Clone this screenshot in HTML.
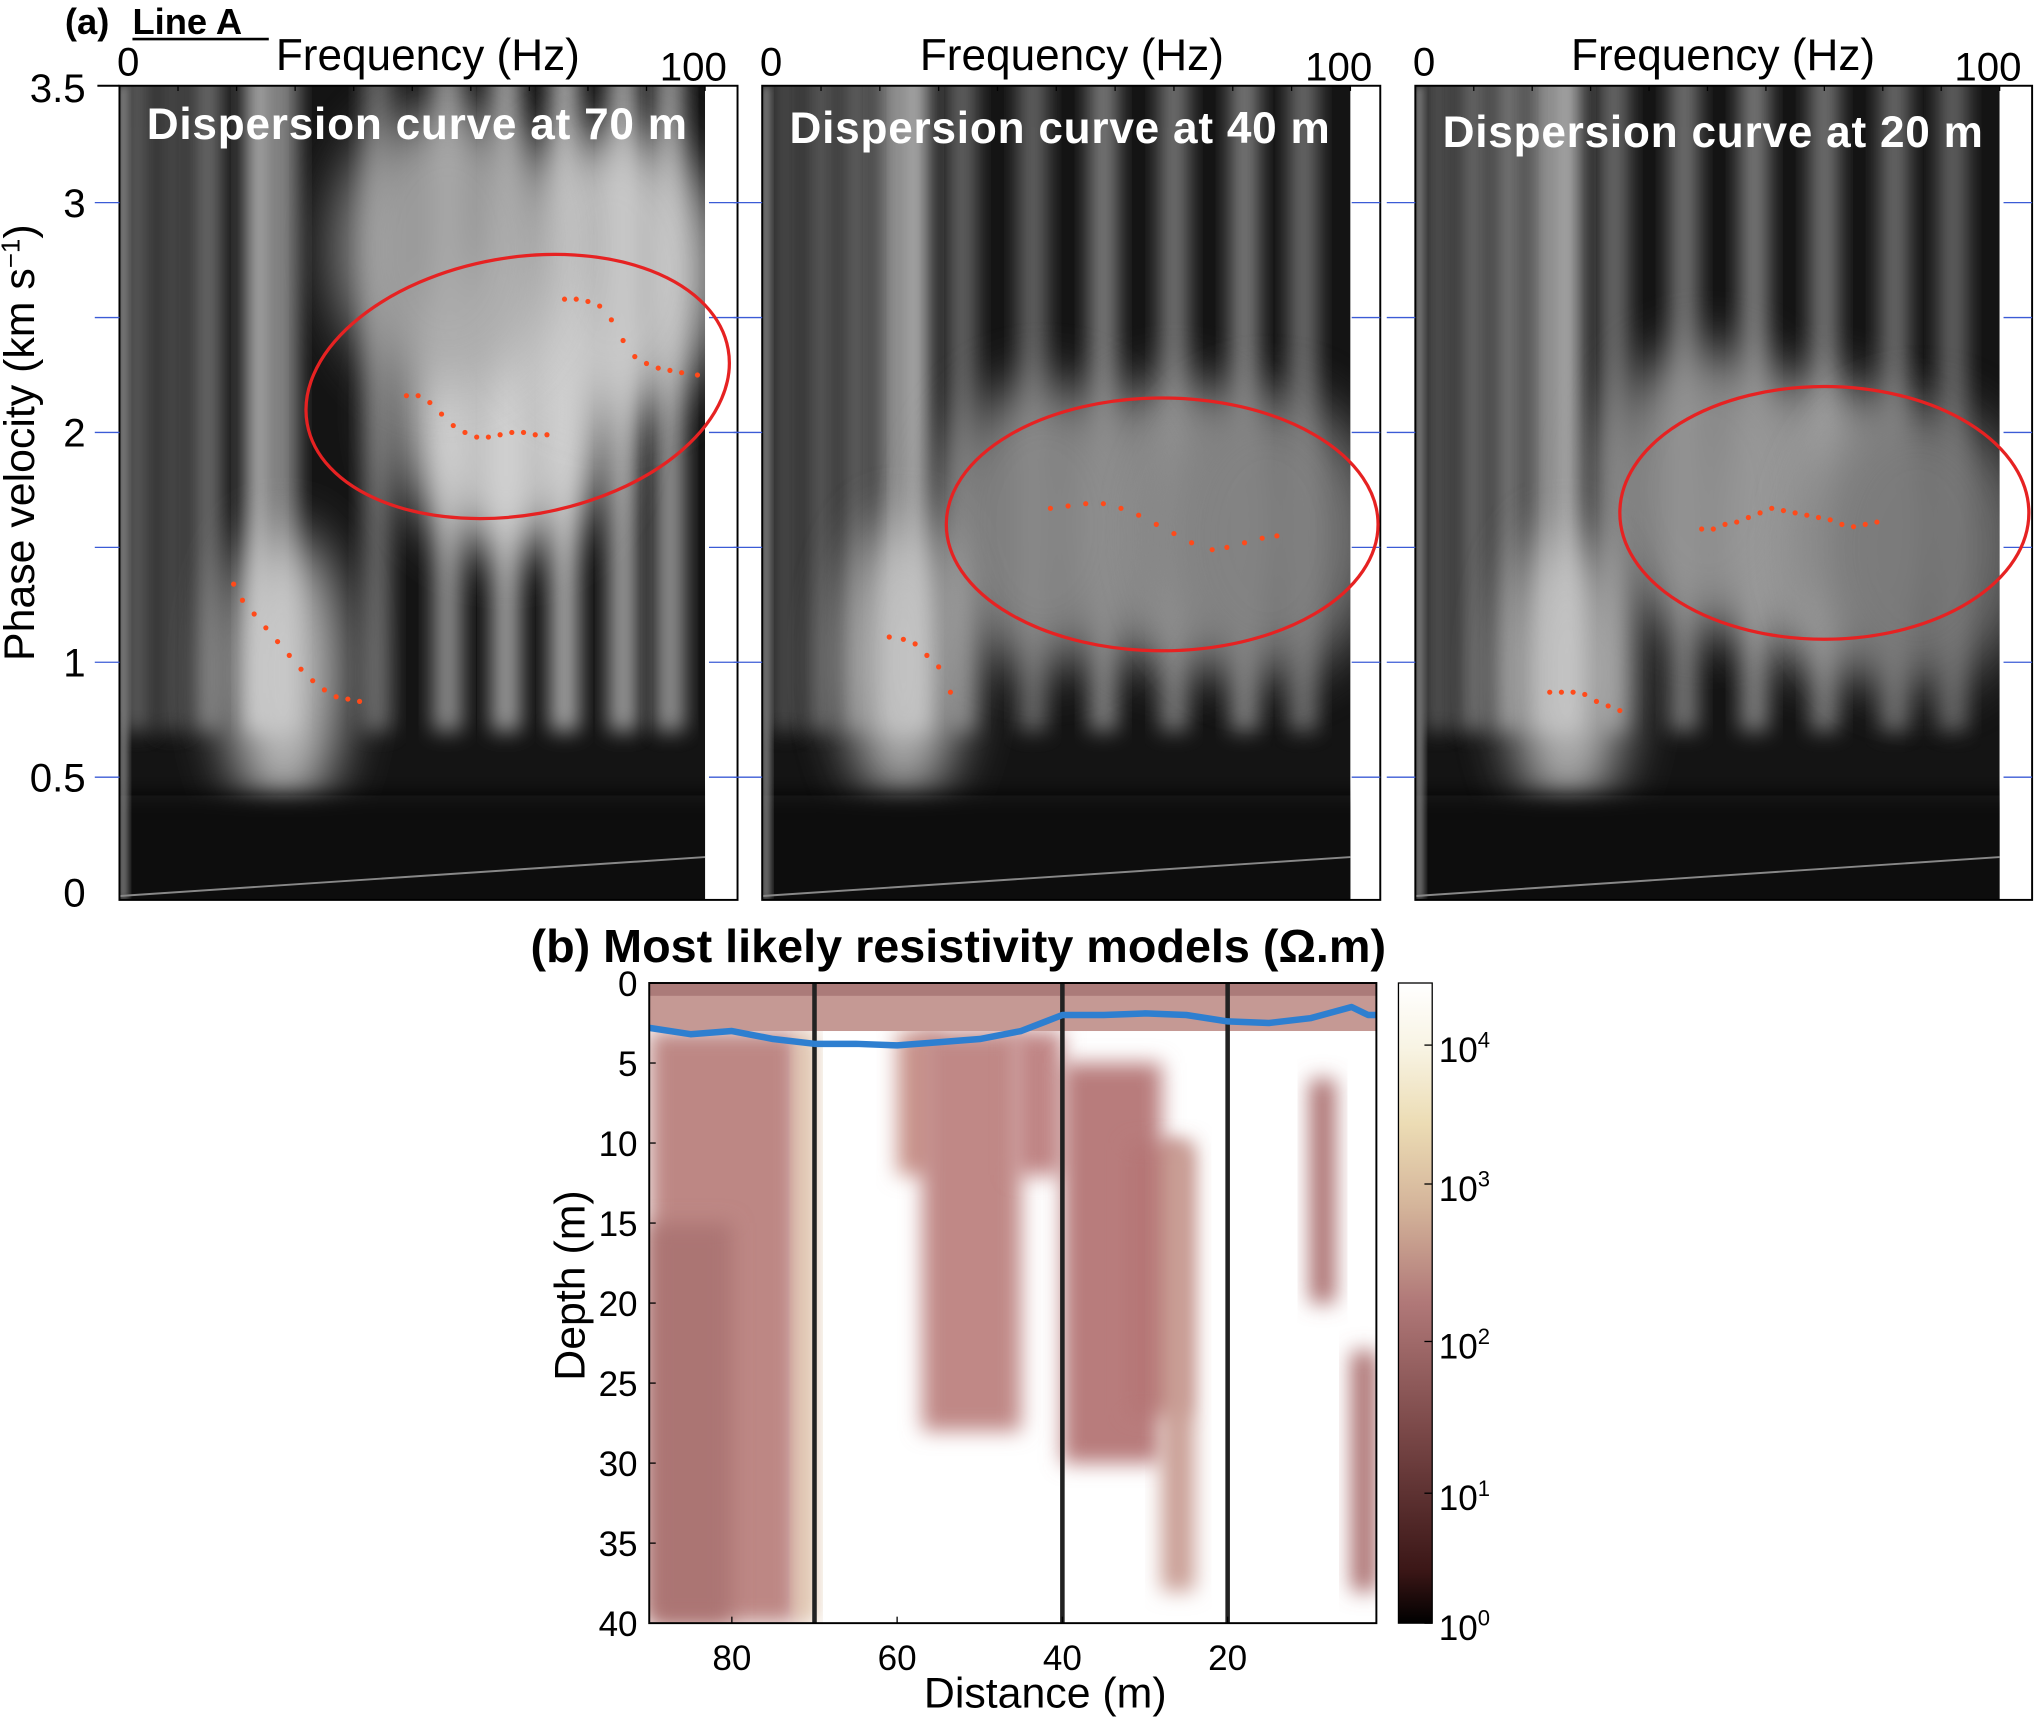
<!DOCTYPE html>
<html><head><meta charset="utf-8"><style>
html,body{margin:0;padding:0;background:#fff;}
svg{display:block;font-family:"Liberation Sans",Arial,sans-serif;}
</style></head><body>
<svg id="fig" xmlns="http://www.w3.org/2000/svg" width="2036" height="1718" viewBox="0 0 1568 1323">
<defs>
<filter id="blur6" x="-50%" y="-50%" width="200%" height="200%"><feGaussianBlur stdDeviation="8"/></filter>
<filter id="blur14" x="-50%" y="-50%" width="200%" height="200%"><feGaussianBlur stdDeviation="22"/></filter>
<filter id="blur3" x="-50%" y="-50%" width="200%" height="200%"><feGaussianBlur stdDeviation="3"/></filter>
<linearGradient id="cbar" x1="0" y1="1" x2="0" y2="0">
<stop offset="0" stop-color="#000"/><stop offset="0.08" stop-color="#3a1616"/><stop offset="0.3" stop-color="#7a4848"/>
<stop offset="0.5" stop-color="#b07878"/><stop offset="0.65" stop-color="#d4b49a"/><stop offset="0.78" stop-color="#ecdcb4"/>
<stop offset="0.9" stop-color="#f8f4e4"/><stop offset="1" stop-color="#fff"/></linearGradient>
</defs>
<g id="root"></g>
</svg>
<script>
const NS="http://www.w3.org/2000/svg";
const rootG=document.getElementById('root');
// ---- data ----
const velTicks=[0,0.5,1,2,3,3.5];
const velMinorTicks=[0.5,1,1.5,2,2.5,3];
const panelTitles=["Dispersion curve at 70 m","Dispersion curve at 40 m","Dispersion curve at 20 m"];
const picksFreq1=[19.5,21,23,25,27,29,31,33,35,37,39,41, 49,51,53,55,57,59,61,63,65,67,69,71,73, 76,78,80,82,84,86,88,90,92,94,96,98.7];
const picksVel1=[1.34,1.27,1.21,1.15,1.09,1.03,0.97,0.92,0.88,0.85,0.84,0.83, 2.16,2.16,2.13,2.08,2.03,2.0,1.98,1.98,1.99,2.0,2.0,1.99,1.99, 2.58,2.58,2.57,2.55,2.49,2.4,2.33,2.3,2.28,2.27,2.26,2.25];
const picksFreq2=[21.6,24,26,28,30,32, 49,52,55,58,61,64,67,70,73,76.5,79,82,85,87.5];
const picksVel2=[1.11,1.1,1.08,1.03,0.98,0.87, 1.67,1.68,1.69,1.69,1.67,1.64,1.6,1.56,1.52,1.49,1.5,1.52,1.54,1.55];
const picksFreq3=[23,25,27,29,31,33,35, 49,51,53,55,57,59,61,63,65,67,69,71,73,75,77,79];
const picksVel3=[0.87,0.87,0.87,0.86,0.83,0.81,0.79, 1.58,1.58,1.6,1.61,1.63,1.65,1.67,1.66,1.65,1.64,1.63,1.62,1.6,1.59,1.6,1.61];
const ellCx=[68,68,70], ellCy=[2.2,1.6,1.65], ellRx=[36.5,36.7,35], ellRy=[0.56,0.55,0.55];
const stripeF=[[3,9,15,24,28,44,56,66,76,86,94],[4,10,16,22,26,34,46,58,70,82,92],[4,10,16,22,26,34,46,58,70,82,92]];
const stripeB=[[110,90,130,210,160,120,170,190,200,190,180],[90,110,120,170,210,120,120,150,140,150,130],[100,130,150,170,210,130,140,150,140,130,120]];
const blobF=[[66,84,28,56],[70,48,24,86],[70,50,26,86]];
const blobV=[[2.1,2.7,0.95,2.8],[1.6,1.6,1.0,1.55],[1.6,1.75,0.95,1.5]];
const blobB=[[215,205,210,170],[150,140,200,130],[170,150,200,120]];
const distTicks=[80,60,40,20];
const depthTicks=[0,5,10,15,20,25,30,35,40];
const cbExp=[4,3,2,1,0];
const cbFrac=[0.903,0.686,0.44,0.203,0];
const resD1=[90,72,60,57,46,40,32,28,10,5,90];
const resD2=[72,70,55,45,40,28,25,24,7,2,80];
const resZ1=[3,3,3,3,3,5,10,10,6,23,15];
const resZ2=[40,40,12,28,12,30,27,38,20,38,40];
const resC=["#bd8784","#d9b898","#c9948c","#c08886","#c08585","#b87c7b","#b57676","#c99e94","#a86a6a","#a86a6a","#ab7473"];
const blueDist=[90,85,80,75,70,65,60,55,50,45,42,40,35,30,25,20,15,10,5,3,2];
const blueDepth=[2.8,3.2,3.0,3.5,3.8,3.8,3.9,3.7,3.5,3.0,2.4,2.0,2.0,1.9,2.0,2.4,2.5,2.2,1.5,2.0,2.0];
const vLines=[70,40,20];
// ---- helpers ----
function mk(tag,attrs,parent){const e=document.createElementNS(NS,tag);for(const k in attrs)e.setAttribute(k,attrs[k]);(parent||rootG).appendChild(e);return e;}
function txt(x,y,s,size,extra,parent){const t=mk('text',Object.assign({x:x,y:y,'font-size':size},extra||{}),parent);t.textContent=s;return t;}
function sup(x,y,base,exp,size,extra,parent){const t=mk('text',Object.assign({x:x,y:y,'font-size':size},extra||{}),parent);
  t.appendChild(document.createTextNode(base));const s=mk('tspan',{dy:-11,'font-size':Math.round(size*0.62)},t);s.textContent=exp;return t;}
const panels=[{x0:92,x1:543,r:568},{x0:587,x1:1040,r:1063},{x0:1090,x1:1540,r:1565}];
const yTop=66,yBot=693;
const vy=v=>687-v*177;
// ---- panel a ----
const lbl=txt(50,26,"(a)",28,{'font-weight':'bold'});

const la=txt(102,26,"Line A",28,{'font-weight':'bold'});

mk('line',{x1:102,y1:30,x2:207,y2:30,stroke:'#000','stroke-width':2});
const picksF=[picksFreq1,picksFreq2,picksFreq3], picksV=[picksVel1,picksVel2,picksVel3];
panels.forEach((p,i)=>{
  const fx=f=>p.x0+f*(p.x1-p.x0)/100;
  const g=mk('g',{});
  
  
  const cp=mk('clipPath',{id:'cp'+i},g);mk('rect',{x:p.x0,y:yTop,width:p.x1-p.x0,height:yBot-yTop},cp);
  const ig=mk('g',{'clip-path':'url(#cp'+i+')'},g);
  mk('rect',{x:p.x0,y:yTop,width:p.x1-p.x0,height:yBot-yTop,fill:'#141414'},ig);
  stripeF[i].forEach((f,k)=>{const b=stripeB[i][k];
    const s=mk('rect',{x:fx(f)-11,y:yTop-20,width:22,height:vy(0.7)-yTop+20,fill:`rgb(${b},${b},${b})`,filter:'url(#blur6)',opacity:0.8},ig);
    });
  blobF[i].forEach((f,k)=>{const b=blobB[i][k];
    const e=mk('ellipse',{cx:fx(f),cy:vy(blobV[i][k]),rx:k==2?45:85,ry:k==2?110:110,fill:`rgb(${b},${b},${b})`,filter:'url(#blur14)',opacity:0.9},ig);
    });
  mk('rect',{x:p.x0-20,y:vy(0.42),width:p.x1-p.x0+40,height:yBot-vy(0.42)+20,fill:'#0c0c0c',filter:'url(#blur6)'},ig);
  mk('rect',{x:p.x0,y:yTop,width:6,height:yBot-yTop,fill:'#888',filter:'url(#blur3)'},ig);
  mk('line',{x1:p.x0,y1:690,x2:p.x1,y2:660,stroke:'#888','stroke-width':1.5},ig);
  mk('rect',{x:p.x0,y:yTop,width:p.r-p.x0,height:yBot-yTop,fill:'none',stroke:'#000','stroke-width':1.5},g);
  velMinorTicks.forEach(v=>{
    const l=mk('line',{x1:p.r-22,y1:vy(v),x2:p.r,y2:vy(v),stroke:'#3b5bd6','stroke-width':1},g);
    
    mk('line',{x1:p.x0-(i==0?19:22),y1:vy(v),x2:p.x0,y2:vy(v),stroke:'#3b5bd6','stroke-width':1},g);
  });
  for(let f=0;f<=100;f+=10){mk('line',{x1:fx(f),y1:yTop,x2:fx(f),y2:yTop+4,stroke:'#000'},g);}
  const t0=txt(fx(1.5),58,"0",31,{'text-anchor':'middle'},g);
  const t1=txt(fx(98),62,"100",31,{'text-anchor':'middle'},g);
  const ft=txt((p.x0+p.x1)/2+12,54,"Frequency (Hz)",34,{'text-anchor':'middle'},g);
  
  const tt=txt(p.x0+21,110+(i==0?-3:0)+(i==2?3:0),panelTitles[i],34,{'font-weight':'bold',fill:'#fff','letter-spacing':'0.6'},g);
  
  const ea={cx:fx(ellCx[i]),cy:vy(ellCy[i]),rx:ellRx[i]*(p.x1-p.x0)/100,ry:ellRy[i]*177,fill:'none',stroke:'#e62222','stroke-width':2.5};
  if(i==0) ea.transform=`rotate(-10 ${fx(ellCx[i])} ${vy(ellCy[i])})`;
  const el=mk('ellipse',ea,g);
  
  picksF[i].forEach((f,k)=>{
    const c=mk('circle',{cx:fx(f),cy:vy(picksV[i][k]),r:2,fill:'#ff4a1a'},g);
    
  });
});
mk('line',{x1:75,y1:yTop,x2:92,y2:yTop,stroke:'#000','stroke-width':1.5});
velTicks.forEach(v=>{const t=txt(66,vy(v)+11,String(v),31,{'text-anchor':'end'});
  });
const ytg=mk('g',{transform:'translate(26,326) rotate(-90)'});
const yt=sup(-183,0,"Phase velocity (km s","−1",33,{},ytg);
const yclose=mk('tspan',{dy:11},yt);yclose.textContent=")";

// ---- panel b ----
const bx0=500,bx1=1060,by0=757,by1=1250;
const dx=d=>bx0+(90-d)*(bx1-bx0)/88;
const dz=z=>by0+z*(by1-by0)/40;
const bt=txt(738,741,"(b) Most likely resistivity models (Ω.m)",36,{'font-weight':'bold','text-anchor':'middle'});

const bg=mk('g',{});
const bcp=mk('clipPath',{id:'bcp'},bg);mk('rect',{x:bx0,y:by0,width:bx1-bx0,height:by1-by0},bcp);
const bi=mk('g',{'clip-path':'url(#bcp)'},bg);
mk('rect',{x:bx0,y:by0,width:bx1-bx0,height:by1-by0,fill:'#fff'},bi);
resD1.forEach((d,k)=>{
  const r=mk('rect',{x:dx(d),y:dz(resZ1[k]),width:dx(resD2[k])-dx(d),height:dz(resZ2[k])-dz(resZ1[k]),fill:resC[k],filter:'url(#blur6)'},bi);
  
});
const surfaceRect=mk('rect',{x:bx0,y:by0,width:bx1-bx0,height:dz(3)-by0,fill:'#c59994'},bi);

mk('rect',{x:bx0,y:by0,width:bx1-bx0,height:dz(0.8)-by0,fill:'#9a6868',opacity:0.6},bi);
vLines.forEach(d=>{const l=mk('line',{x1:dx(d),y1:by0,x2:dx(d),y2:by1,stroke:'#222','stroke-width':3.5},bi);
  });
const pts=blueDist.map((d,k)=>dx(d)+','+dz(blueDepth[k])).join(' ');
const bl=mk('polyline',{points:pts,fill:'none',stroke:'#2e7fd0','stroke-width':5,'stroke-linejoin':'round'},bi);

mk('rect',{x:bx0,y:by0,width:bx1-bx0,height:by1-by0,fill:'none',stroke:'#000','stroke-width':1.5},bg);
depthTicks.forEach(z=>{mk('line',{x1:bx0,y1:dz(z),x2:bx0+5,y2:dz(z),stroke:'#000'},bg);
  const t=txt(491,dz(z)+10,String(z),27,{'text-anchor':'end'},bg);});
distTicks.forEach(d=>{mk('line',{x1:dx(d),y1:by1,x2:dx(d),y2:by1-5,stroke:'#000'},bg);
  const t=txt(dx(d),1286,String(d),27,{'text-anchor':'middle'},bg);});
const xt=txt(805,1315,"Distance (m)",33,{'text-anchor':'middle'});

const dtg=mk('g',{transform:'translate(450,990) rotate(-90)'});
const dt=txt(0,0,"Depth (m)",33,{'text-anchor':'middle'},dtg);

const cbg=mk('g',{});
mk('rect',{x:1077,y:757,width:26,height:493,fill:'url(#cbar)',stroke:'#000','stroke-width':1},cbg);
cbExp.forEach((e,k)=>{const y=1250-cbFrac[k]*493;
  mk('line',{x1:1097,y1:y,x2:1103,y2:y,stroke:'#000'},cbg);
  const t=sup(1108,y+13,"10",String(e),27,{},cbg);
  });
</script>
</body></html>
